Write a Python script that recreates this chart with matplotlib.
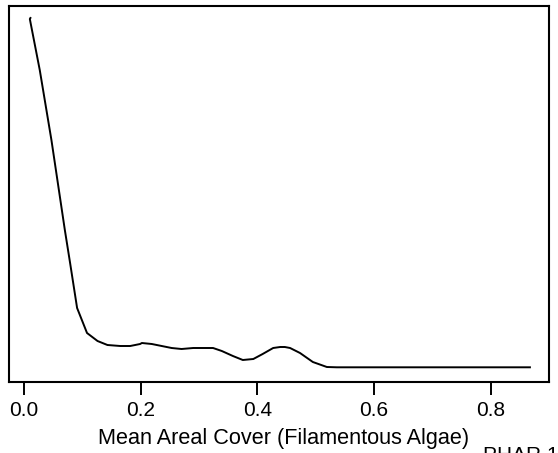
import matplotlib
matplotlib.use("Agg")
import matplotlib.pyplot as plt

# density curve (x = mean areal cover, y = density, arbitrary units)
cover = [0.011, 0.010, 0.027, 0.047, 0.070, 0.079, 0.091, 0.108, 0.126, 0.143,
         0.165, 0.182, 0.199, 0.202, 0.219, 0.236, 0.253, 0.270, 0.290, 0.324,
         0.339, 0.358, 0.375, 0.393, 0.409, 0.427, 0.439, 0.447, 0.456, 0.473,
         0.495, 0.519, 0.536, 0.867]
density = [3.52, 3.51, 3.00, 2.30, 1.40, 1.07, 0.62, 0.37, 0.29, 0.25,
           0.24, 0.24, 0.26, 0.27, 0.26, 0.24, 0.22, 0.21, 0.22, 0.22,
           0.19, 0.14, 0.10, 0.11, 0.16, 0.22, 0.23, 0.23, 0.22, 0.17,
           0.08, 0.03, 0.027, 0.027]

plt.rcParams["font.family"] = ["Liberation Sans", "DejaVu Sans"]

fig = plt.figure(figsize=(5.58, 4.53), dpi=100)
ax = fig.add_axes([9 / 558, 1 - 382 / 453, 540 / 558, 376.5 / 453])

ax.plot(cover, density, color="black", linewidth=1.4)

ax.set_xlim(-0.0257, 0.8997)
ax.set_ylim(-0.12, 3.645)
ax.set_xticks([0.0, 0.2, 0.4, 0.6, 0.8])
ax.set_xticklabels(["0.0", "0.2", "0.4", "0.6", "0.8"])
ax.set_yticks([])
ax.tick_params(axis="x", length=9, width=1.4, pad=4.5, labelsize=15)
for spine in ax.spines.values():
    spine.set_linewidth(1.5)

ax.set_xlabel("Mean Areal Cover (Filamentous Algae)", fontsize=15.6)
ax.xaxis.set_label_coords(0.508, -0.121)
# label in the corner, partly cut off by the bottom edge as in the reference
fig.text(483 / 558, 1 - 446 / 453, "PHAR 1", fontsize=15, ha="left", va="top")

fig.savefig("out.png", dpi=100)
